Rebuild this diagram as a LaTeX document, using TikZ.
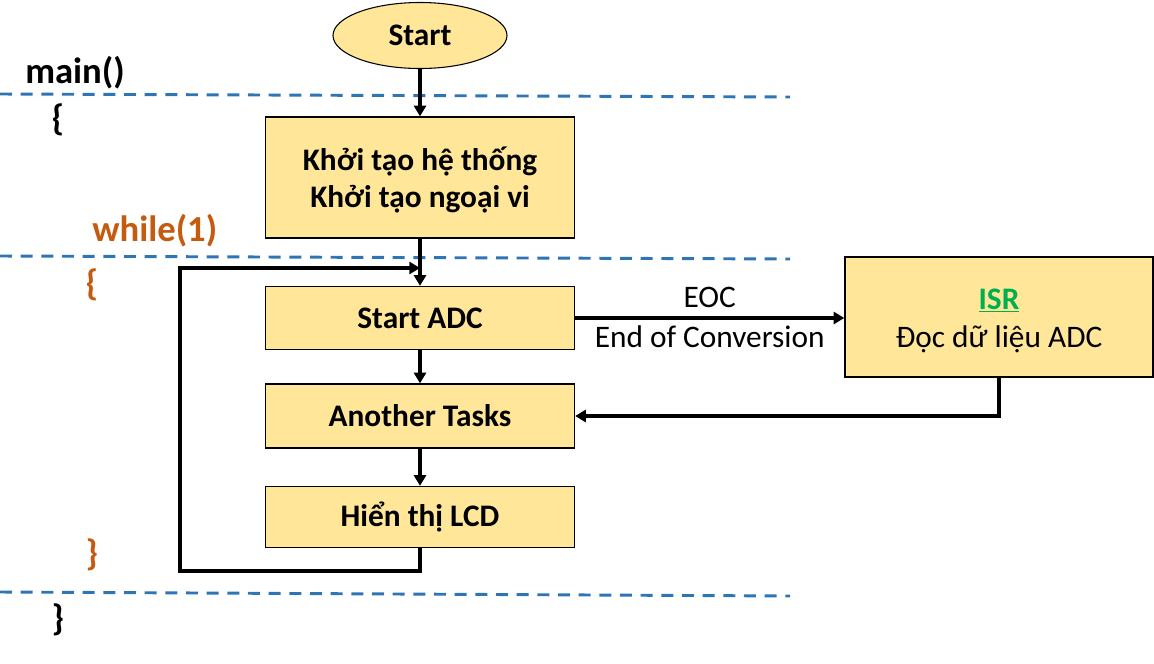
\documentclass[tikz,border=0pt]{standalone}
\usepackage{fontspec}
\setmainfont{Carlito}
\usetikzlibrary{arrows.meta,shapes.geometric,calc}
\definecolor{boxfill}{HTML}{FFE699}
\definecolor{dashblue}{HTML}{2E75B6}
\definecolor{codeorange}{HTML}{C55A11}
\definecolor{isrgreen}{HTML}{00B050}
\begin{document}
\begin{tikzpicture}[x=0.75pt,y=-0.75pt,
  boxstyle/.style={draw=black,line width=1pt,fill=boxfill,inner sep=0pt,align=center,
    font=\fontsize{23.5}{27.75}\selectfont\bfseries},
  termstyle/.style={ellipse,draw=black,line width=0.8pt,fill=boxfill,inner sep=0pt,
    minimum width={174*0.75pt},minimum height={66*0.75pt},font=\fontsize{23.5}{27.75}\selectfont\bfseries},
  arr/.style={line width=2.8pt,-{Triangle[length=8pt,width=9pt]}},
  sepline/.style={dashblue,line width=2.2pt,dash pattern=on 9pt off 6.5pt},
  codetext/.style={inner sep=0pt,font=\fontsize{27.5}{30}\selectfont\bfseries},
  lbl/.style={inner sep=0pt,font=\fontsize{23.5}{27.75}\selectfont}
]
\useasboundingbox (0,0) rectangle (1154,664);

% separator lines
\draw[sepline] (0,94) -- (790,97);
\draw[sepline] (0,256) -- (790,259);
\draw[sepline] (0,592) -- (790,596);

% code labels
\node[codetext,anchor=west] (mainlbl) at (25,73) {main()};
\node[codetext] (ob1) at (58,120) {\{};
\node[codetext,anchor=west,text=codeorange] (whilelbl) at (92,231) {while(1)};
\node[codetext,text=codeorange] (ob2) at (92,285) {\{};
\node[codetext,text=codeorange] (cb2) at (92,555) {\}};
\node[codetext] (cb1) at (58,620) {\}};

% flow nodes
\node[termstyle] (start) at (420,35.5) {Start};
\node[boxstyle,minimum width={309*0.75pt},minimum height={121*0.75pt}] (init) at (420,177.5)
  {\raisebox{-3pt}[\height][\depth]{\begin{tabular}{@{}c@{}}Khởi tạo hệ thống\\[0.2pt]Khởi tạo ngoại vi\end{tabular}}};
\node[boxstyle,minimum width={309*0.75pt},minimum height={63*0.75pt}] (adc) at (420,318) {Start ADC};
\node[boxstyle,minimum width={309*0.75pt},minimum height={64*0.75pt}] (tasks) at (420,416) {Another Tasks};
\node[boxstyle,font=\fontsize{23.5}{27.75}\selectfont,minimum width={309*0.75pt},minimum height={61*0.75pt}] (lcd) at (420,517) {\bfseries Hiển thị LCD};
\node[boxstyle,font=\fontsize{23.5}{27.75}\selectfont,minimum width={308*0.75pt},minimum height={120*0.75pt}] (isr) at (999,317)
  {\raisebox{-3pt}[\height][\depth]{\begin{tabular}{@{}c@{}}\textcolor{isrgreen}{\bfseries\underline{ISR}}\\[1pt]Đọc dữ liệu ADC\end{tabular}}};

% connectors
\draw[arr] (start.south) -- (init.north);
\draw[arr] (init.south) -- (adc.north);
\draw[arr] (adc.south) -- (tasks.north);
\draw[arr] (tasks.south) -- (lcd.north);
\coordinate (lb) at (180,571);
\coordinate (lt) at (180,268);
\draw[arr] (lcd.south) |- (lb) -- (lt) -- (lt -| adc.north);
\draw[arr] (adc.east) -- (adc.east -| isr.west)
  node[lbl,midway,above=6.5pt] (eoc) {EOC}
  node[lbl,midway,below=4.5pt] (eocfull) {End of Conversion};
\draw[arr] (isr.south) |- (tasks.east);
\end{tikzpicture}
\end{document}
